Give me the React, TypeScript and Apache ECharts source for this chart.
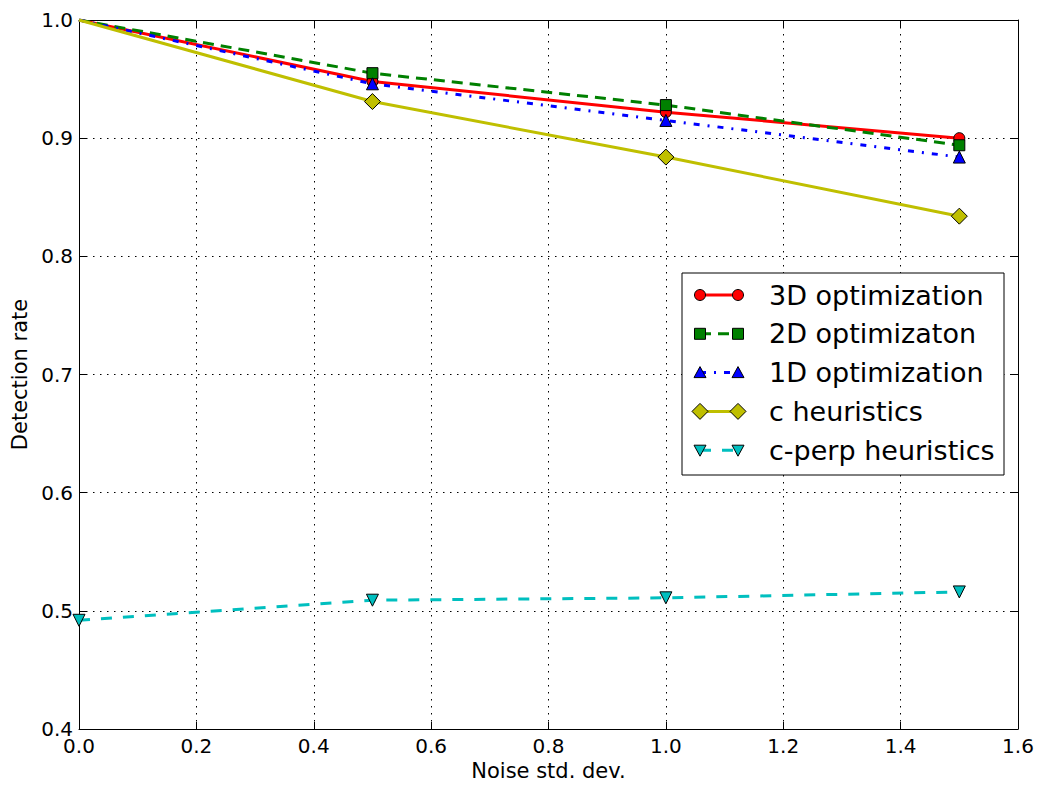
import React, { useEffect, useRef } from "react";
import * as echarts from "echarts";

const noiseStd = [0, 0.5, 1.0, 1.5];
const rate3D = [1.0, 0.948, 0.922, 0.9];
const rate2D = [1.0, 0.955, 0.928, 0.894];
const rate1D = [1.0, 0.946, 0.915, 0.884];
const rateC = [1.0, 0.931, 0.884, 0.834];
const rateCPerp = [0.492, 0.509, 0.511, 0.516];
const seriesNames = [
  "3D optimization",
  "2D optimizaton",
  "1D optimization",
  "c heuristics",
  "c-perp heuristics",
];
const xTitle = "Noise std. dev.";
const yTitle = "Detection rate";

const seriesData = [rate3D, rate2D, rate1D, rateC, rateCPerp];
const styles = [
  { color: "#ff0000", dash: "solid" as any, symbol: "circle", size: 11, rotate: 0 },
  { color: "#008000", dash: [11, 7] as any, symbol: "rect", size: 11, rotate: 0 },
  { color: "#0000ff", dash: [6, 8, 2, 8] as any, symbol: "triangle", size: 12, rotate: 0 },
  { color: "#bfbf00", dash: "solid" as any, symbol: "diamond", size: 16, rotate: 0 },
  { color: "#00bfbf", dash: [11, 11] as any, symbol: "triangle", size: 12, rotate: 180 },
];

const FONT = "DejaVu Sans";

function marker(kind: string, cx: number, cy: number, color: string, rotate: number): any {
  const style = { fill: color, stroke: "#000", lineWidth: 1 };
  if (kind === "circle") return { type: "circle", shape: { cx, cy, r: 5.5 }, style };
  if (kind === "rect") return { type: "rect", shape: { x: cx - 5.5, y: cy - 5.5, width: 11, height: 11 }, style };
  if (kind === "diamond")
    return {
      type: "polygon",
      shape: { points: [[cx, cy - 8], [cx + 8, cy], [cx, cy + 8], [cx - 8, cy]] },
      style,
    };
  const s = rotate === 180 ? -1 : 1;
  return {
    type: "polygon",
    shape: { points: [[cx, cy - 6 * s], [cx + 6, cy + 5 * s], [cx - 6, cy + 5 * s]] },
    style,
  };
}

export default function App() {
  const ref = useRef<HTMLDivElement>(null);
  useEffect(() => {
    if (!ref.current) return;
    const chart = echarts.init(ref.current, null, { renderer: "svg" });

    const legendEls: any[] = [
      {
        type: "rect",
        shape: { x: 682, y: 273, width: 322, height: 202 },
        style: { fill: "#fff", stroke: "#000", lineWidth: 1 },
        z: 100,
      },
    ];
    seriesNames.forEach((name, i) => {
      const st = styles[i];
      const cy = 295 + i * 38.8;
      legendEls.push({
        type: "line",
        shape: { x1: 700, y1: cy, x2: 738, y2: cy },
        style: { stroke: st.color, lineWidth: 3, lineDash: st.dash === "solid" ? null : st.dash },
        z: 101,
      });
      legendEls.push({ ...marker(st.symbol, 700, cy, st.color, st.rotate), z: 102 });
      legendEls.push({ ...marker(st.symbol, 738, cy, st.color, st.rotate), z: 102 });
      legendEls.push({
        type: "text",
        x: 769,
        y: cy,
        style: { text: name, fontFamily: FONT, fontSize: 27, fill: "#000", verticalAlign: "middle" },
        z: 102,
      });
    });

    const tickStyle = { show: true, inside: true, length: 7, lineStyle: { color: "#000", width: 1 } };
    const lineAxis = { show: true, onZero: false, lineStyle: { color: "#000", width: 1 } };
    const grid = { type: [1.5, 5.5] as any, color: "#000", width: 1 };

    chart.setOption({
      animation: false,
      backgroundColor: "#fff",
      grid: { left: 79, right: 32, top: 20, bottom: 60 },
      xAxis: [
        {
          type: "value",
          min: 0,
          max: 1.6,
          interval: 0.2,
          name: xTitle,
          nameLocation: "middle",
          nameGap: 31,
          nameTextStyle: { fontFamily: FONT, fontSize: 21, color: "#000" },
          axisLine: lineAxis,
          axisTick: tickStyle,
          axisLabel: {
            margin: 7,
            fontFamily: FONT,
            fontSize: 20,
            color: "#000",
            formatter: (v: number) => v.toFixed(1),
          },
          splitLine: { show: true, lineStyle: grid },
        },
        {
          type: "value",
          position: "top",
          min: 0,
          max: 1.6,
          interval: 0.2,
          axisLine: lineAxis,
          axisTick: tickStyle,
          axisLabel: { show: false },
          splitLine: { show: false },
        },
      ],
      yAxis: [
        {
          type: "value",
          min: 0.4,
          max: 1.0,
          interval: 0.1,
          name: yTitle,
          nameLocation: "middle",
          nameGap: 44,
          nameTextStyle: { fontFamily: FONT, fontSize: 21, color: "#000" },
          axisLine: lineAxis,
          axisTick: tickStyle,
          axisLabel: {
            margin: 6,
            fontFamily: FONT,
            fontSize: 20,
            color: "#000",
            formatter: (v: number) => v.toFixed(1),
          },
          splitLine: { show: true, lineStyle: grid },
        },
        {
          type: "value",
          position: "right",
          min: 0.4,
          max: 1.0,
          interval: 0.1,
          axisLine: lineAxis,
          axisTick: tickStyle,
          axisLabel: { show: false },
          splitLine: { show: false },
        },
      ],
      series: seriesNames.map((name, i) => ({
        type: "line",
        name,
        xAxisIndex: 0,
        yAxisIndex: 0,
        data: noiseStd.map((x, j) =>
          j === 0 && i < 4
            ? { value: [x, seriesData[i][j]], symbol: "none" }
            : [x, seriesData[i][j]]
        ),
        symbol: styles[i].symbol,
        symbolSize: styles[i].size,
        symbolRotate: styles[i].rotate,
        showAllSymbol: true,
        lineStyle: { color: styles[i].color, width: 3, type: styles[i].dash },
        itemStyle: { color: styles[i].color, borderColor: "#000", borderWidth: 1 },
        z: 2 + i,
      })),
      graphic: legendEls,
    });
    return () => chart.dispose();
  }, []);
  return (
    <div
      ref={ref}
      style={{ position: "fixed", left: 0, top: 0, width: 1050, height: 789 }}
    />
  );
}
